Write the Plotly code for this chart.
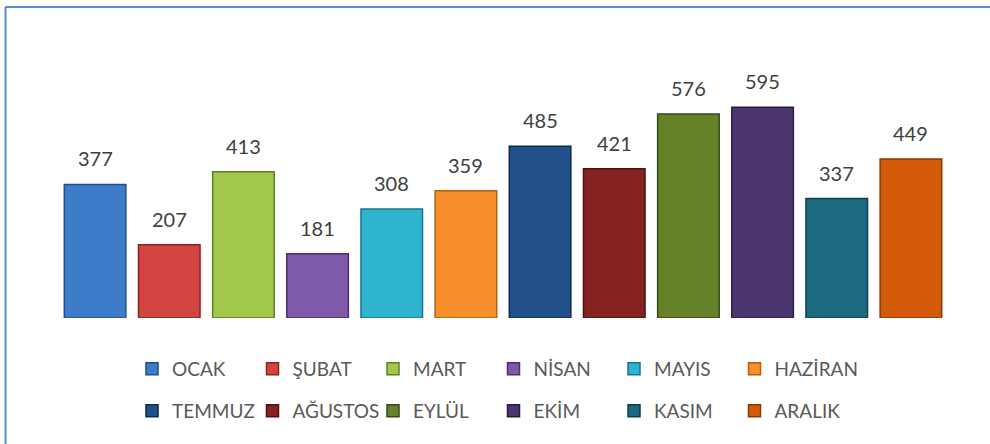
import plotly.graph_objects as go

# Monthly totals
months = ["OCAK", "ŞUBAT", "MART", "NİSAN", "MAYIS", "HAZİRAN",
          "TEMMUZ", "AĞUSTOS", "EYLÜL", "EKİM", "KASIM", "ARALIK"]
values = [377, 207, 413, 181, 308, 359, 485, 421, 576, 595, 337, 449]

fill_colors = ["#3D7CC9", "#D14441", "#A1C84A", "#7E5AA8", "#2FB4D0", "#F7902A",
               "#22508A", "#84231F", "#658229", "#4C3670", "#1B6A80", "#D35A08"]
edge_colors = ["#1F4F8A", "#8A2421", "#5E7F22", "#4B2F6E", "#16768D", "#B0600F",
               "#0F2A4D", "#4E1210", "#37481A", "#2A1C40", "#0E3E4B", "#8A3904"]

FONT = "Lato, 'Open Sans', sans-serif"
W, H = 990, 444
ML, MR, MT, MB = 58, 42, 70, 126
PW, PH = W - ML - MR, H - MT - MB

fig = go.Figure()
for i, (m, v) in enumerate(zip(months, values)):
    legend_id = "legend" if i == 0 else f"legend{i + 1}"
    fig.add_trace(go.Bar(
        x=[m], y=[v], name=m,
        marker=dict(color=fill_colors[i], line=dict(color=edge_colors[i], width=1.5)),
        legend=legend_id,
        hoverinfo="x+y",
    ))
    fig.add_annotation(x=m, y=v, text=str(v), showarrow=False,
                       yanchor="middle", yshift=26,
                       font=dict(family=FONT, size=20, color="#404040"))

# Legend laid out as a 6 x 2 grid of entries below the bars
legend_style = dict(
    xanchor="left", yanchor="middle",
    font=dict(family=FONT, size=19, color="#595959"),
    bgcolor="rgba(0,0,0,0)", itemclick=False, itemdoubleclick=False,
)
legends = {}
for i in range(len(months)):
    col, row = i % 6, i // 6
    left_px = 132 + 120.5 * col
    mid_px = 369 + 42 * row
    key = "legend" if i == 0 else f"legend{i + 1}"
    legends[key] = dict(x=(left_px - ML) / PW, y=(H - MB - mid_px) / PH, **legend_style)

# Frame: left and top edges of the chart border
frame_x = (5.5 - ML) / PW
frame_y = (H - MB - 7) / PH
frame_line = dict(color="#5B8BD0", width=2)

fig.update_layout(
    width=W, height=H,
    margin=dict(l=ML, r=MR, t=MT, b=MB),
    paper_bgcolor="white", plot_bgcolor="white",
    barmode="overlay", bargap=0.17,
    showlegend=True,
    xaxis=dict(showticklabels=False, showgrid=False, zeroline=False,
               showline=False, ticks=""),
    yaxis=dict(range=[0, 700], showticklabels=False, showgrid=False,
               zeroline=False, showline=False, ticks=""),
    font=dict(family=FONT),
    shapes=[
        dict(type="line", xref="paper", yref="paper",
             x0=frame_x, x1=frame_x, y0=-3, y1=frame_y, line=frame_line),
        dict(type="line", xref="paper", yref="paper",
             x0=frame_x, x1=1.5, y0=frame_y, y1=frame_y, line=frame_line),
    ],
    **legends,
)

fig.write_html("out.html")
